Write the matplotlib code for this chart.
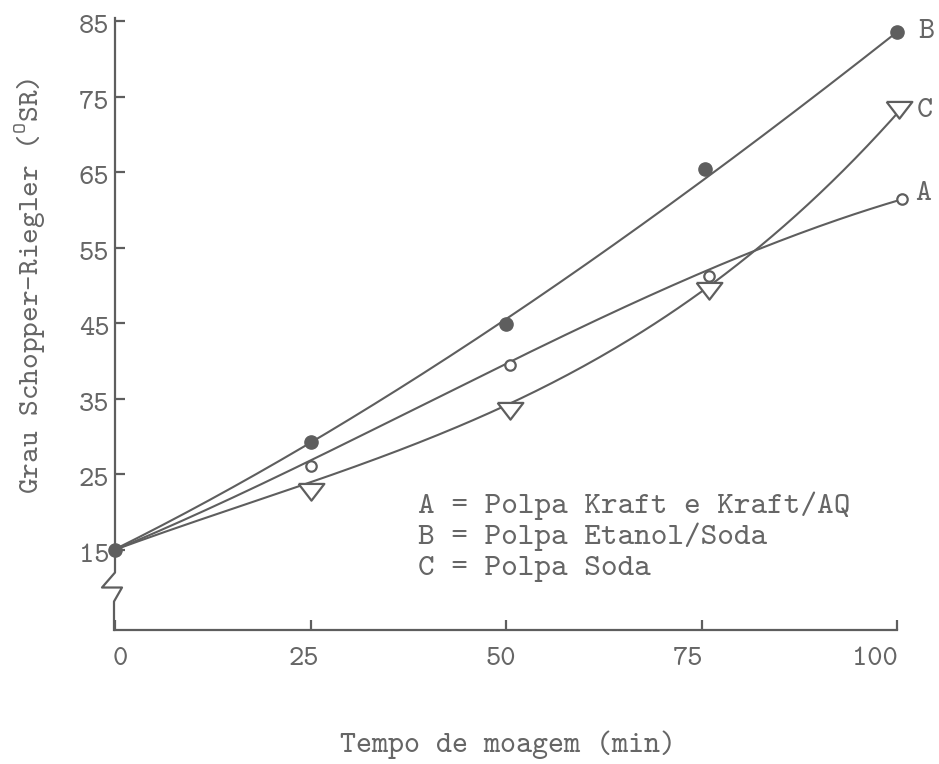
import matplotlib
matplotlib.use('Agg')
import matplotlib.pyplot as plt
import matplotlib.transforms as mtransforms
import numpy as np

# grinding time (min) and Schopper-Riegler degree measured for each pulp
tempo_a = [0, 25, 50.5, 76, 100.6]
grau_a = [15, 26.0, 39.4, 51.2, 61.4]
tempo_b = [0, 25, 50, 75.5, 100]
grau_b = [15, 29.3, 44.9, 65.4, 83.5]
tempo_c = [0, 25, 50.5, 76, 100.2]
grau_c = [15, 23.0, 33.7, 49.6, 73.6]

# hand-drawn trend curves, read at the same times
ajuste_a = [15, 26.7, 40.0, 52.0, 61.4]
ajuste_b = [15, 29.3, 45.3, 64.3, 83.5]
ajuste_c = [15, 23.8, 34.5, 49.8, 73.0]

x_ticks = [0, 25, 50, 75, 100]
y_ticks = [15, 25, 35, 45, 55, 65, 75, 85]
legenda = ['A = Polpa Kraft e Kraft/AQ',
           'B = Polpa Etanol/Soda',
           'C = Polpa Soda']

ink = '#5e5e5e'
text_ink = '#666666'
fonte = 'cmtt10'   # typewriter face shipped with matplotlib

plt.rcParams['font.family'] = [fonte, 'DejaVu Sans']
plt.rcParams['mathtext.fontset'] = 'custom'
plt.rcParams['mathtext.rm'] = fonte

fig = plt.figure(figsize=(9.39, 7.64), dpi=100)
x0, x1, ytop, ybot = 115, 897, 18, 630
ax = fig.add_axes([x0 / 939, 1 - ybot / 764, (x1 - x0) / 939, (ybot - ytop) / 764])
ymin, ymax = 4.34, 85.4
ax.set_xlim(0, 100)
ax.set_ylim(ymin, ymax)


def curva(xs, ys):
    # smooth cubic through the trend samples
    p = np.polyfit(xs, ys, 3)
    xx = np.linspace(xs[0], xs[-1], 200)
    return xx, np.polyval(p, xx)


for xs, ys in [(tempo_a, ajuste_a), (tempo_b, ajuste_b), (tempo_c, ajuste_c)]:
    xx, yy = curva(xs, ys)
    ax.plot(xx, yy, color=ink, lw=1.5, clip_on=False, zorder=2)

# flat, downward triangle centred on its centroid
tri = [(-1, 0.433), (1, 0.433), (0, -0.867), (-1, 0.433)]

# the shared start point only shows the filled dot
ax.plot(tempo_a, grau_a, 'o', ms=7.5, mfc='white', mec=ink, mew=1.6,
        markevery=slice(1, None), clip_on=False, zorder=3)
ax.plot(tempo_c, grau_c, marker=tri, ls='none', ms=18.5, mfc='white', mec=ink, mew=1.6,
        markevery=slice(1, None), clip_on=False, zorder=3)
ax.plot(tempo_b, grau_b, 'o', ms=9.5, mfc=ink, mec=ink, clip_on=False, zorder=4)

# curve labels at the end of each series
rot_kw = dict(textcoords='offset points', va='center', ha='left',
              fontsize=22, color=text_ink, annotation_clip=False)
ax.annotate('A', (tempo_a[-1], grau_a[-1]), xytext=(10, 3.5), **rot_kw)
ax.annotate('B', (tempo_b[-1], grau_b[-1]), xytext=(15, 0), **rot_kw)
ax.annotate('C', (tempo_c[-1], grau_c[-1]), xytext=(13, -2.5), **rot_kw)

# legend as a plain text block, one line per pulp
for i, linha in enumerate(legenda):
    ax.annotate(linha, (38.8, 19.8), xytext=(0, -22.3 * i), textcoords='offset points',
                fontsize=22.8, color=text_ink, va='baseline', ha='left')

# axes: bottom spine only, left one drawn by hand with a break mark
for s in ['top', 'right', 'left']:
    ax.spines[s].set_visible(False)
ax.spines['bottom'].set_color(ink)
ax.spines['bottom'].set_linewidth(1.6)

px_x = 100 / (x1 - x0)
px_y = (ymax - ymin) / (ybot - ytop)
yb_top = 15 - 23 * px_y
yb_mid = 15 - 38 * px_y
yb_low = 15 - 52 * px_y
ax.plot([0, 0, -13 * px_x, 7 * px_x, -1 * px_x, -1 * px_x],
        [ymax, yb_top, yb_mid, yb_mid, yb_low, ymin],
        color=ink, lw=1.6, clip_on=False, zorder=1)

ax.set_xticks(x_ticks)
ax.set_yticks(y_ticks)
ax.tick_params(direction='in', length=7, width=1.6, color=ink,
               labelcolor=text_ink, labelsize=21)
ax.tick_params(axis='x', pad=12)
ax.tick_params(axis='y', pad=4)

# typed labels do not sit exactly centred on their ticks
x_shift_px = [5, -7, -5, -14, -22]
for lab, dx in zip(ax.get_xticklabels(), x_shift_px):
    off = mtransforms.ScaledTranslation(dx / 100, 0, fig.dpi_scale_trans)
    lab.set_transform(lab.get_transform() + off)
for lab in ax.get_yticklabels():
    off = mtransforms.ScaledTranslation(0, -3 / 100, fig.dpi_scale_trans)
    lab.set_transform(lab.get_transform() + off)

ax.set_xlabel('Tempo de moagem (min)', fontsize=22, color=text_ink, va='center')
ax.xaxis.set_label_coords(0.503, -0.188)
ax.set_ylabel(r'Grau Schopper-Riegler ($^{\mathrm{O}}$SR)', fontsize=21.5,
              color=text_ink, va='center')
ax.yaxis.set_label_coords(-0.108, 0.562)

fig.savefig('out.png', dpi=100, facecolor='white')
